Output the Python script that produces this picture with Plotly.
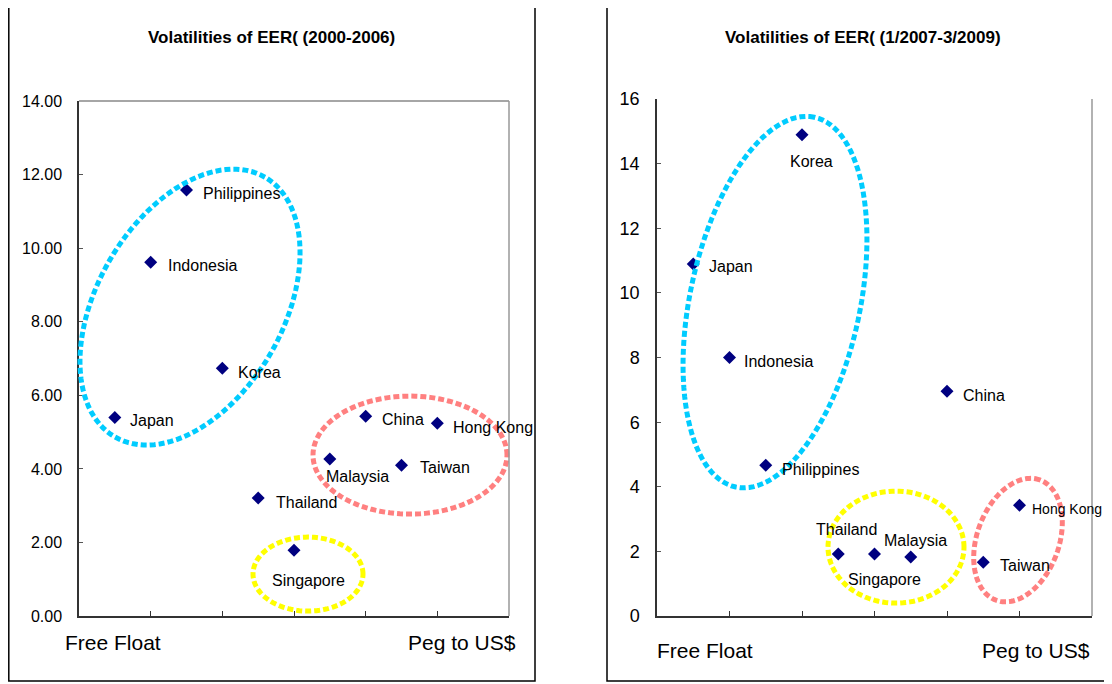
import numpy as np
import plotly.graph_objects as go

# ---------------- data ----------------
countries_1 = ["Japan", "Indonesia", "Philippines", "Korea", "Thailand",
               "Singapore", "Malaysia", "China", "Taiwan", "Hong Kong"]
regime_1 = [1, 2, 3, 4, 5, 6, 7, 8, 9, 10]
vol_1 = [5.40, 9.62, 11.58, 6.74, 3.21, 1.79, 4.27, 5.43, 4.10, 5.24]

countries_2 = ["Japan", "Indonesia", "Philippines", "Korea", "Thailand",
               "Singapore", "Malaysia", "China", "Taiwan", "Hong Kong"]
regime_2 = [1, 2, 3, 4, 5, 6, 7, 8, 9, 10]
vol_2 = [10.90, 8.00, 4.67, 14.90, 1.92, 1.92, 1.83, 6.96, 1.67, 3.43]

title_1 = "Volatilities of EER( (2000-2006)"
title_2 = "Volatilities of EER( (1/2007-3/2009)"
axis_left_label = "Free Float"
axis_right_label = "Peg to US$"

W, H = 1112, 684
# page offset of the figure in the photographed window
OX, OY, HV = 8.0, 18.9, 664.0

# label offsets (style): (xanchor, xshift, yshift_down, font size)
offs_1 = {
    "Japan": ("left", 13, 3, 16), "Indonesia": ("left", 15, 3, 16),
    "Philippines": ("left", 14, 3, 16), "Korea": ("left", 14, 4, 16),
    "Thailand": ("left", 16, 4, 16), "Singapore": ("center", 14, 30, 16),
    "Malaysia": ("left", -6, 17, 16), "China": ("left", 14, 3, 16),
    "Taiwan": ("left", 16, 2, 16), "Hong Kong": ("left", 14, 4, 16),
}
offs_2 = {
    "Japan": ("left", 14, 3, 16), "Indonesia": ("left", 12, 4, 16),
    "Philippines": ("left", 14, 4, 16), "Korea": ("center", 9, 27, 16),
    "Thailand": ("center", 8, -25, 16), "Singapore": ("center", 10, 25, 16),
    "Malaysia": ("center", 5, -16, 16), "China": ("left", 14, 4, 16),
    "Taiwan": ("left", 15, 3, 16), "Hong Kong": ("left", 10, 4, 14),
}

FONT = "Liberation Sans, Noto Sans CJK JP, sans-serif"


def px(x):
    return (x - OX) / W


def py(y):
    return 1 - (y - OY) / HV


fig = go.Figure()
fig.add_trace(go.Scatter(x=regime_1, y=vol_1, mode="markers", xaxis="x", yaxis="y",
                         marker=dict(symbol="diamond", size=10, color="#000080"),
                         cliponaxis=False, showlegend=False, hoverinfo="skip"))
fig.add_trace(go.Scatter(x=regime_2, y=vol_2, mode="markers", xaxis="x2", yaxis="y2",
                         marker=dict(symbol="diamond", size=10, color="#000080"),
                         cliponaxis=False, showlegend=False, hoverinfo="skip"))

annotations = []
for names, xs, ys, offs, xr, yr in [(countries_1, regime_1, vol_1, offs_1, "x", "y"),
                                    (countries_2, regime_2, vol_2, offs_2, "x2", "y2")]:
    for n, xv, yv in zip(names, xs, ys):
        anc, dx, dy, fs = offs[n]
        annotations.append(dict(x=xv, y=yv, xref=xr, yref=yr, text=n, showarrow=False,
                                xanchor=anc, yanchor="middle", xshift=dx, yshift=-dy,
                                font=dict(family=FONT, size=fs, color="black")))

# titles
for t, xc in [(title_1, 271), (title_2, 863)]:
    annotations.append(dict(x=px(xc), y=py(38), xref="paper", yref="paper", text="<b>" + t + "</b>",
                            xanchor="center", yanchor="middle", showarrow=False,
                            font=dict(family=FONT, size=17, color="black")))
# regime labels
for xl, xrgt, yc in [(63, 518, 643), (655, 1092, 651)]:
    annotations.append(dict(x=px(xl), y=py(yc), xref="paper", yref="paper", text=axis_left_label,
                            xanchor="left", yanchor="middle", showarrow=False,
                            font=dict(family=FONT, size=21, color="black")))
    annotations.append(dict(x=px(xrgt), y=py(yc), xref="paper", yref="paper", text=axis_right_label,
                            xanchor="right", yanchor="middle", showarrow=False,
                            font=dict(family=FONT, size=21, color="black")))


def ellipse_path(cx, cy, a, b, theta):
    t = np.deg2rad(theta)
    phis = np.linspace(0, 2 * np.pi, 120, endpoint=False)
    pts = []
    for f in phis:
        ex = cx + a * np.cos(f) * np.cos(t) - b * np.sin(f) * np.sin(t)
        ey = cy - (a * np.cos(f) * np.sin(t) + b * np.sin(f) * np.cos(t))
        pts.append((px(ex), py(ey)))
    return "M " + " L ".join(f"{x:.5f},{y:.5f}" for x, y in pts) + " Z"


BLUE, RED, YEL = "#00CCFF", "#FF8080", "#FFFF00"
ell = [
    (190, 308, 150, 93, 60, BLUE),
    (410, 456, 97, 59, 0, RED),
    (308, 575, 55, 37, 0, YEL),
    (775, 303, 189, 85, 78, BLUE),
    (896, 548, 68, 56, 0, YEL),
    (1018, 541, 64, 41, 70, RED),
]
shapes = []
for cx, cy, a, b, th, col in ell:
    shapes.append(dict(type="path", path=ellipse_path(cx, cy, a, b, th), xref="paper", yref="paper",
                       line=dict(color=col, width=5, dash="6px,3px")))

# panel borders
shapes.append(dict(type="rect", xref="paper", yref="paper", x0=px(8.8), x1=px(535), y0=py(682), y1=py(-10),
                   line=dict(color="black", width=1.5)))
shapes.append(dict(type="rect", xref="paper", yref="paper", x0=px(607), x1=px(1140), y0=py(682), y1=py(-10),
                   line=dict(color="black", width=1.5)))
# plot area grey frame lines
shapes.append(dict(type="line", xref="x domain", yref="y domain", x0=0, x1=1, y0=1, y1=1,
                   line=dict(color="#888888", width=1.5)))
shapes.append(dict(type="line", xref="x domain", yref="y domain", x0=1, x1=1, y0=0, y1=1,
                   line=dict(color="#999999", width=1.5)))
shapes.append(dict(type="line", xref="x2 domain", yref="y2 domain", x0=1, x1=1, y0=0, y1=1,
                   line=dict(color="#999999", width=1.5)))

xcommon = dict(range=[0, 12], tickvals=[2, 4, 6, 8, 10, 12], showticklabels=False, ticks="inside",
               ticklen=5, tickcolor="#333333", showgrid=False, zeroline=False, showline=True,
               linecolor="#333333", linewidth=2)
ycommon = dict(ticks="inside", ticklen=4, tickcolor="#555555", showgrid=False, zeroline=False,
               showline=True, linecolor="#333333", linewidth=1.5, ticklabelstandoff=12)

fig.update_layout(
    width=W, height=H, margin=dict(l=0, r=0, t=0, b=0),
    paper_bgcolor="white", plot_bgcolor="white", showlegend=False,
    xaxis=dict(domain=[px(79), px(509)], anchor="y", **xcommon),
    yaxis=dict(domain=[py(617), py(102)], anchor="x", range=[0, 14], tickvals=list(range(0, 15, 2)),
               tickformat=".2f", tickfont=dict(family=FONT, size=16, color="black"), **ycommon),
    xaxis2=dict(domain=[px(657), px(1092)], anchor="y2", **xcommon),
    yaxis2=dict(domain=[py(617), py(100)], anchor="x2", range=[0, 16], tickvals=list(range(0, 17, 2)),
                tickfont=dict(family=FONT, size=18, color="black"), **ycommon),
    annotations=annotations, shapes=shapes,
)

fig.write_html("out.html")
